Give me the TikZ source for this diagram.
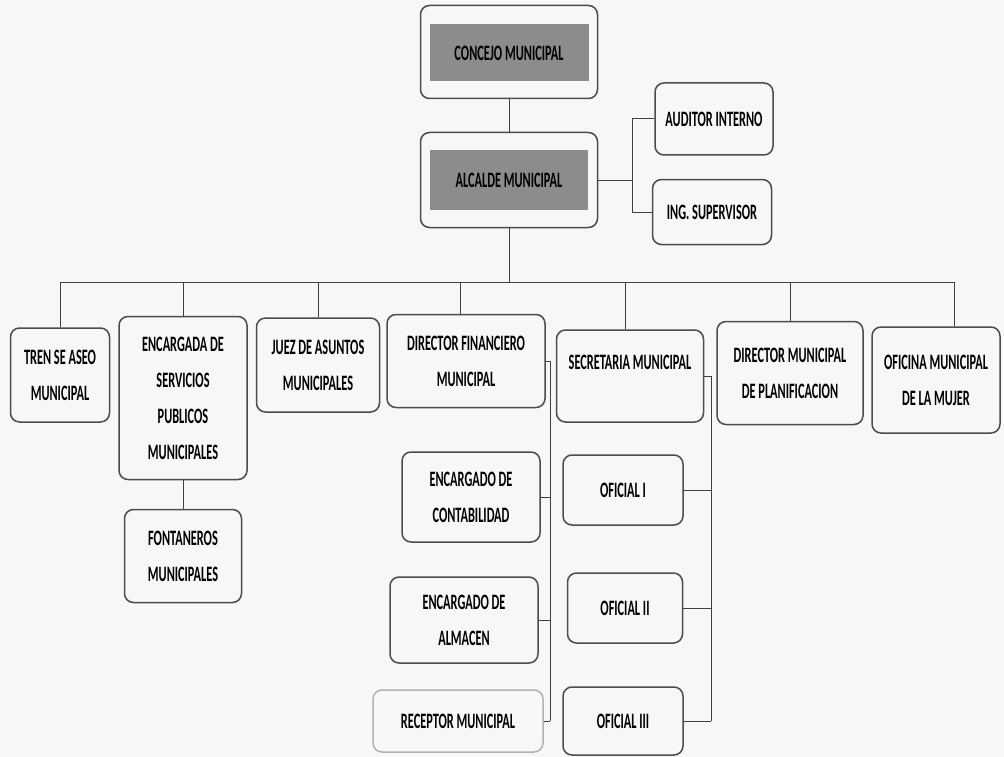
\documentclass[tikz,border=0pt]{standalone}
\usepackage{fontspec}
\newfontfamily\orgfont[FakeStretch=0.56]{Carlito}

\begin{document}
\begin{tikzpicture}[x=1pt, y=-1pt, every node/.style={font=\orgfont\bfseries\fontsize{22}{36}\selectfont}, box/.style={draw=black!70, line width=1.5pt, rounded corners=9pt, align=center, inner sep=0pt}, shade/.style={fill=black!45, inner sep=0pt}, line/.style={draw=black!75, line width=1pt}]
\fill[black!3] (0,0) rectangle (1004,757);
\useasboundingbox (0,0) rectangle (1004,757);
% top of the chart
\node[box, minimum width=177pt, minimum height=93pt] (concejo) at (509,52) {};
\node[shade, minimum width=159pt, minimum height=57pt] (concejoin) at (509,53) {CONCEJO MUNICIPAL};
\node[box, minimum width=177pt, minimum height=95pt] (alcalde) at (509,180) {};
\node[shade, minimum width=158pt, minimum height=60pt] (alcaldein) at (509,180) {ALCALDE MUNICIPAL};
\node[box, minimum width=118pt, minimum height=72pt] (auditor) at (714,119) {AUDITOR INTERNO};
\node[box, minimum width=119pt, minimum height=65pt] (ingsup) at (712,212) {ING. SUPERVISOR};
% second level
\node[box, minimum width=99pt, minimum height=94pt] (tren) at (60,375) {TREN SE ASEO\\MUNICIPAL};
\node[box, minimum width=128pt, minimum height=163pt] (encargada) at (183,398) {ENCARGADA DE\\SERVICIOS\\PUBLICOS\\MUNICIPALES};
\node[box, minimum width=123pt, minimum height=94pt] (juez) at (318,365) {JUEZ DE ASUNTOS\\MUNICIPALES};
\node[box, minimum width=158pt, minimum height=93pt] (dirfin) at (466,361) {DIRECTOR FINANCIERO\\MUNICIPAL};
\node[box, minimum width=147pt, minimum height=92pt, text depth=28pt] (secretaria) at (630,376) {SECRETARIA MUNICIPAL};
\node[box, minimum width=146pt, minimum height=103pt] (dirplan) at (790,373) {DIRECTOR MUNICIPAL\\DE PLANIFICACION};
\node[box, minimum width=128pt, minimum height=106pt] (mujer) at (936,380) {OFICINA MUNICIPAL\\DE LA MUJER};
% third level
\node[box, minimum width=117pt, minimum height=93pt] (fontaneros) at (183,556) {FONTANEROS\\MUNICIPALES};
\node[box, minimum width=138pt, minimum height=90pt] (contab) at (471,497) {ENCARGADO DE\\CONTABILIDAD};
\node[box, minimum width=148pt, minimum height=86pt] (almacen) at (464,620) {ENCARGADO DE\\ALMACEN};
\node[box, draw=black!30, minimum width=170pt, minimum height=62pt] (receptor) at (458,721) {RECEPTOR MUNICIPAL};
\node[box, minimum width=120pt, minimum height=70pt] (ofi) at (623,490) {OFICIAL I};
\node[box, minimum width=115pt, minimum height=70pt] (ofii) at (625,608) {OFICIAL II};
\node[box, minimum width=120pt, minimum height=68pt] (ofiii) at (623,721) {OFICIAL III};
% connectors
\coordinate (side) at (632,180);
\coordinate (bus) at (509,282);
\coordinate (finbus) at (550,361);
\coordinate (secbus) at (711,376);
\draw[line] (concejo) -- (alcalde);
\draw[line] (alcalde.east) -- (side);
\draw[line] (auditor.west) -| (side);
\draw[line] (ingsup.west) -| (side);
\draw[line] (alcalde.south) -- (bus);
\draw[line] (tren.north |- bus) -- ([xshift=18pt]mujer.north |- bus);
\draw[line] (tren.north) -- (tren.north |- bus);
\draw[line] (encargada.north) -- (encargada.north |- bus);
\draw[line] (juez.north) -- (juez.north |- bus);
\draw[line] ([xshift=-6pt]dirfin.north) -- ([xshift=-6pt]dirfin.north |- bus);
\draw[line] ([xshift=-5pt]secretaria.north) -- ([xshift=-5pt]secretaria.north |- bus);
\draw[line] (dirplan.north) -- (dirplan.north |- bus);
\draw[line] ([xshift=18pt]mujer.north) -- ([xshift=18pt]mujer.north |- bus);
\draw[line] (encargada) -- (fontaneros);
\draw[line] (dirfin.east) -- (finbus) -- (finbus |- receptor.east);
\draw[line] (contab.east) -- (contab.east -| finbus);
\draw[line] (almacen.east) -- (almacen.east -| finbus);
\draw[line] (receptor.east) -- (receptor.east -| finbus);
\draw[line] (secretaria.east) -- (secbus) -- (secbus |- ofiii.east);
\draw[line] (ofi.east) -- (ofi.east -| secbus);
\draw[line] (ofii.east) -- (ofii.east -| secbus);
\draw[line] (ofiii.east) -- (ofiii.east -| secbus);
\end{tikzpicture}
\end{document}
